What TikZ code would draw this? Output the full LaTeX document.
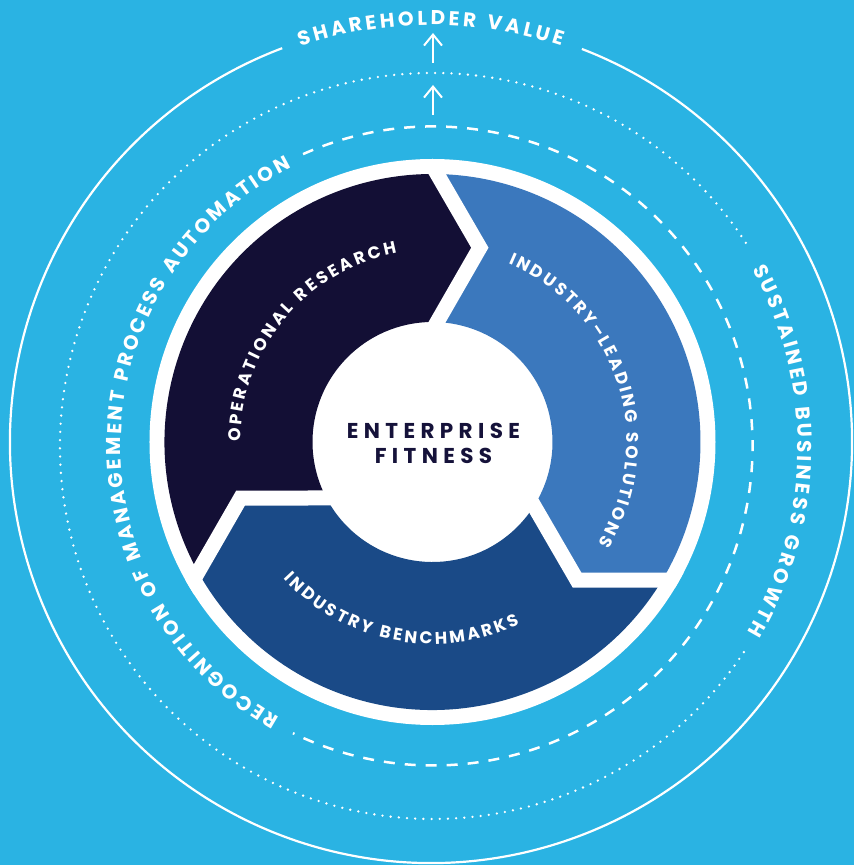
\documentclass[tikz,border=0pt]{standalone}
\usepackage{fontspec}
\setmainfont{Poppins}
\usetikzlibrary{decorations.text,arrows.meta,calc}

\definecolor{bgcyan}{HTML}{2AB3E3}
\definecolor{segdark}{HTML}{130F35}
\definecolor{seglight}{HTML}{3B78BD}
\definecolor{segnavy}{HTML}{1A4A87}
\definecolor{hubtext}{HTML}{15123A}

\newcommand\ringfont{\color{white}\fontsize{20}{24}\selectfont\bfseries}
\newcommand\segfont{\color{white}\fontsize{17}{20}\selectfont\bfseries}

\begin{document}
\begin{tikzpicture}[x=1pt,y=1pt,
  ringsolid/.style={draw=white,line width=2.2pt},
  ringdash/.style={draw=white,line width=2.5pt,dash pattern=on 11pt off 10pt},
  ringdot/.style={draw=white,line width=2.6pt,line cap=round,dash pattern=on 0pt off 8.2pt},
  upflow/.style={draw=white,line width=2pt,-{Straight Barb[length=11pt,width=18pt]}},
  gapline/.style={draw=white,line width=15pt,line join=miter},
  curvedlabel/.style={decorate,decoration={text along path,text align={fit to path},text={#1}}},
  hublabel/.style={text=hubtext,font=\fontsize{21.5}{24}\selectfont\bfseries\addfontfeature{LetterSpace=25},anchor=base,inner sep=0pt},
]
% canvas
\fill[bgcyan] (-432.5,-423) rectangle (421.5,442);
\useasboundingbox (-432.5,-423) rectangle (421.5,442);

% outermost ring with its title in the gap
\begin{scope}[shift={(-1.5,0)}]
  \draw[ringsolid] (110.7:421) arc[start angle=110.7,end angle=429,radius=421];
  \path[curvedlabel={|\ringfont|SHAREHOLDER VALUE}] (108.3:417) arc[start angle=108.3,end angle=71.7,radius=417];
\end{scope}

% dotted and dashed rings with their labels
\begin{scope}[shift={(0.5,-4)}]
  \draw[ringdot] (33:373) arc[start angle=33,end angle=327,radius=373];
  \draw[ringdash] (114:319.5) arc[start angle=114,end angle=-116,radius=319.5];
  \path[curvedlabel={|\ringfont|RECOGNITION OF MANAGEMENT PROCESS AUTOMATION}] (240.6:312) arc[start angle=240.6,end angle=116.9,radius=312];
  \path[curvedlabel={|\ringfont|SUSTAINED BUSINESS GROWTH}] (29:365) arc[start angle=29,end angle=-30.6,radius=365];
\end{scope}

% upward arrows between the rings
\coordinate (v1) at (0.5,327);
\coordinate (v2) at (0.5,357);
\coordinate (v3) at (0.5,379);
\coordinate (v4) at (0.5,409);
\draw[upflow] (v1) -- (v2);
\draw[upflow] (v3) -- (v4);

% white disc carrying the cycle
\fill[white] (0,0) circle[radius=283];

% chevron boundaries between the three segments
\foreach \k/\b in {0/88.7,1/-31.3,2/-151.3}{
  \coordinate (o\k) at (\b+0.3:268);
  \coordinate (t\k) at (\b-12.4:200);
  \coordinate (i\k) at (\b-0.9:120);
}

\fill[segdark] (o2) arc[start angle=-151,end angle=-271,radius=268] -- (t0) -- (i0)
  arc[start angle=87.8,end angle=207.8,radius=120] -- (t2) -- cycle;
\fill[seglight] (o0) arc[start angle=89,end angle=-31,radius=268] -- (t1) -- (i1)
  arc[start angle=-32.2,end angle=87.8,radius=120] -- (t0) -- cycle;
\fill[segnavy] (o1) arc[start angle=-31,end angle=-151,radius=268] -- (t2) -- (i2)
  arc[start angle=-152.2,end angle=-32.2,radius=120] -- (t1) -- cycle;

\begin{scope}
  \clip (0,0) circle[radius=283];
  \foreach \k in {0,1,2}
    \draw[gapline] ($(t\k)!1.3!(o\k)$) -- (t\k) -- ($(t\k)!1.4!(i\k)$);
\end{scope}

% hub
\fill[white] (0,0) circle[radius=118];
\node[hublabel] (hubtop) at (1,4) {ENTERPRISE};
\node[hublabel] (hubbottom) at (1,-21) {FITNESS};

% segment labels
\path[curvedlabel={|\segfont|OPERATIONAL RESEARCH}] (180:192) arc[start angle=180,end angle=100.7,radius=192];
\path[curvedlabel={|\segfont|INDUSTRY–LEADING SOLUTIONS}] (67:194) arc[start angle=67,end angle=-31.5,radius=194];
\path[curvedlabel={|\segfont|INDUSTRY BENCHMARKS}] (-137.5:202) arc[start angle=-137.5,end angle=-64.5,radius=202];
\end{tikzpicture}
\end{document}
